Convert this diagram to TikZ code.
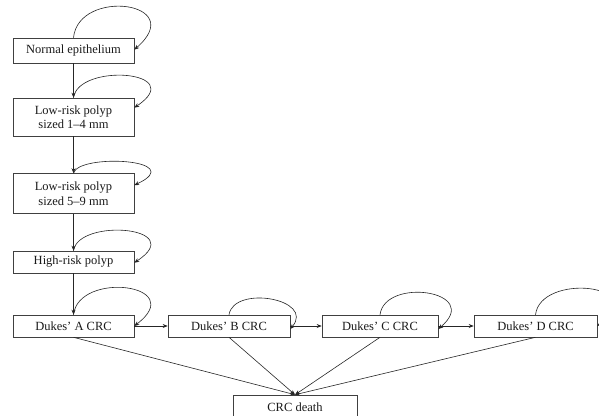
\documentclass[tikz,border=0pt]{standalone}
\usepackage{fontspec}
\setmainfont{Liberation Serif}
\usetikzlibrary{arrows.meta}
\begin{document}
\begin{tikzpicture}[x=1pt,y=-1pt,
  box/.style={draw=black!75,line width=0.6pt,minimum height=22pt,inner sep=2pt,
    font=\fontsize{12.5}{14.5}\selectfont,align=center,text=black!90},
  conn/.style={draw=black!85,line width=0.6pt,-{Stealth[length=5pt,width=4pt]}},
]
\useasboundingbox (0,0) rectangle (599,415);
% left column
\node[box,minimum width=121pt,minimum height=25pt] (ne) at (73.5,50.5) {Normal epithelium};
\node[box,minimum width=121pt,minimum height=38pt] (lp1) at (73.5,117) {Low-risk polyp\\sized 1–4 mm};
\node[box,minimum width=121pt,minimum height=40pt] (lp2) at (73.5,193.5) {Low-risk polyp\\sized 5–9 mm};
\node[box,minimum width=121pt] (hr) at (73.5,262) {High-risk polyp};
% bottom row
\node[box,minimum width=121pt] (da) at (73.5,326) {Dukes’ A CRC};
\node[box,minimum width=122pt] (db) at (229,326) {Dukes’ B CRC};
\node[box,minimum width=116pt] (dc) at (380,326) {Dukes’ C CRC};
\node[box,minimum width=123pt] (dd) at (535.5,326) {Dukes’ D CRC};
\node[box,minimum width=124pt,minimum height=24pt] (death) at (295,407) {CRC death};
% vertical arrows
\draw[conn] (ne.south) -- (lp1.north);
\draw[conn] (lp1.south) -- (lp2.north);
\draw[conn] (lp2.south) -- (hr.north);
\draw[conn] (hr.south) -- (da.north);
% horizontal arrows
\draw[conn] (da.east) -- (db.west);
\draw[conn] (db.east) -- (dc.west);
\draw[conn] (dc.east) -- (dd.west);
% to death
\draw[conn] (da.south) -- (death.north);
\draw[conn] (db.south) -- (death.north);
\draw[conn] (dc.south) -- (death.north);
\draw[conn] (dd.south) -- (death.north);
% self loops
\draw[conn] (ne.north) .. controls +(5,-50) and +(55,-48) .. ([yshift=-12pt]ne.north east);
\draw[conn] (lp1.north) .. controls +(5,-35) and +(55,-37) .. ([yshift=-10pt]lp1.north east);
\draw[conn] (lp2.north) .. controls +(5,-20) and +(55,-26) .. ([yshift=-12pt]lp2.north east);
\draw[conn] (hr.north) .. controls +(5,-33) and +(55,-36) .. ([yshift=-12pt]hr.north east);
\draw[conn] (da.north) .. controls +(5,-44) and +(55,-42) .. (da.east);
\draw[conn] (db.north) .. controls +(5,-30) and +(25,-30) .. ([yshift=-3pt]db.east);
\draw[conn] (dc.north) .. controls +(5,-38) and +(45,-38) .. ([yshift=-3pt]dc.east);
\draw[conn] (dd.north) .. controls +(5,-42) and +(55,-42) .. (dd.east);
\end{tikzpicture}
\end{document}
